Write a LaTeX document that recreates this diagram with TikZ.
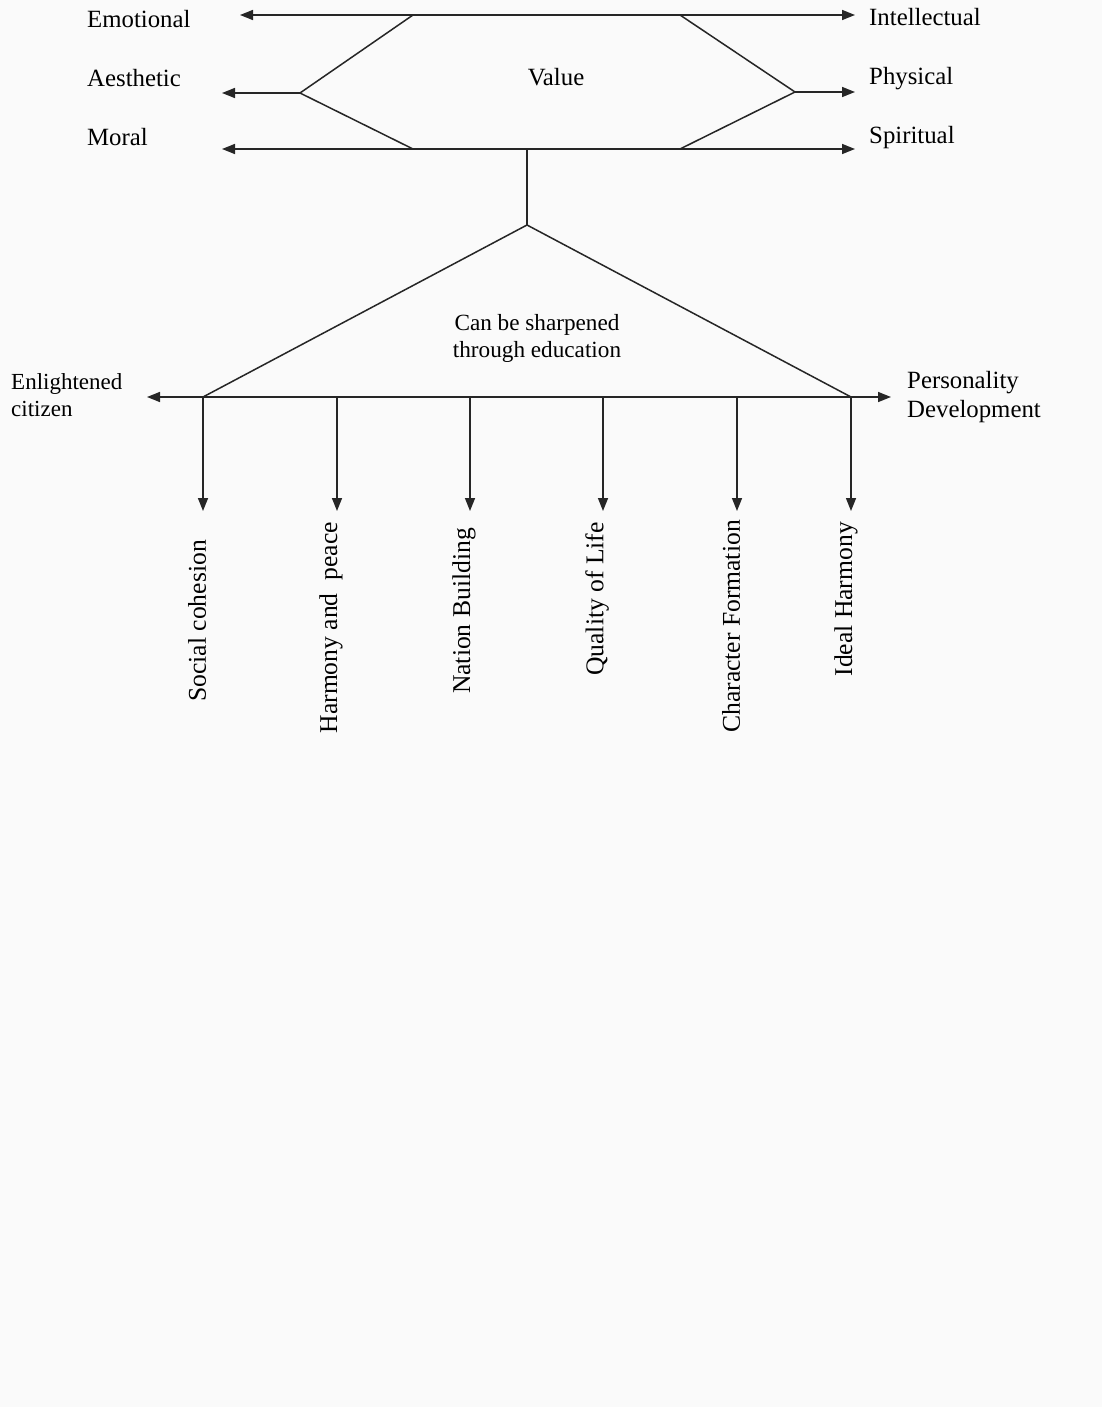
\documentclass[tikz,border=0pt]{standalone}
\usepackage{fontspec}
\setmainfont{Liberation Serif}
\usetikzlibrary{arrows.meta}
\begin{document}
\begin{tikzpicture}[x=1pt,y=-1pt,
  ln/.style={line width=1.5pt, black!85},
  arr/.style={ln, -{Triangle[length=13pt,width=10pt]}},
  darr/.style={ln, {Triangle[length=13pt,width=10pt]}-{Triangle[length=13pt,width=10pt]}},
  lbl/.style={inner sep=0pt, font=\fontsize{24.8}{29}\selectfont, align=left},
  clbl/.style={inner sep=0pt, font=\fontsize{23.2}{27}\selectfont, align=center},
  vlbl/.style={inner sep=0pt, font=\fontsize{25.6}{30}\selectfont, rotate=90, anchor=east}]
\fill[black!2] (0,0) rectangle (1102,1407);
\useasboundingbox (0,0) rectangle (1102,1407);

% hexagon corners
\coordinate (tl) at (413,15);
\coordinate (tr) at (680,15);
\coordinate (ml) at (300,93);
\coordinate (mr) at (795,92);
\coordinate (bl) at (413,149);
\coordinate (br) at (680,149);
\coordinate (stem) at (527,149);
\coordinate (apex) at (527,225);
\coordinate (tbl) at (203,397);
\coordinate (tbr) at (851,397);
% arrow tips
\coordinate (tlTip) at (240,15);
\coordinate (trTip) at (855,15);
\coordinate (mlTip) at (222,93);
\coordinate (mrTip) at (855,92);
\coordinate (blTip) at (222,149);
\coordinate (brTip) at (855,149);
\coordinate (eTip) at (147,397);
\coordinate (pTip) at (891,397);

% top labels
\node[lbl, anchor=base west] (emo) at (87,28) {Emotional};
\node[lbl, anchor=base west] (aes) at (87,87) {Aesthetic};
\node[lbl, anchor=base west] (mor) at (87,146) {Moral};
\node[lbl, anchor=base west] (int) at (869,26) {Intellectual};
\node[lbl, anchor=base west] (phy) at (869,85) {Physical};
\node[lbl, anchor=base west] (spi) at (869,144) {Spiritual};
\node[lbl, anchor=base] (val) at (556,86) {Value};

% value shape
\draw[darr] (tlTip) -- (trTip);
\draw[darr] (blTip) -- (brTip);
\draw[ln] (tl) -- (ml) -- (bl);
\draw[ln] (tr) -- (mr) -- (br);
\draw[arr] (ml) -- (mlTip);
\draw[arr] (mr) -- (mrTip);
\draw[ln] (stem) -- (apex);

% triangle
\draw[ln] (tbl) -- (apex) -- (tbr);
\draw[darr] (eTip) -- (pTip);
\node[clbl, anchor=north] (edu) at (537,314) {Can be sharpened\\through education};
\node[lbl, anchor=north west, font=\fontsize{23}{27}\selectfont] (enl) at (11,373) {Enlightened\\citizen};
\node[lbl, anchor=north west] (per) at (907,371) {Personality\\Development};

% downward arrows
\foreach \n/\x in {a/203,b/337,c/470,d/603,e/737,f/851}{
  \coordinate (top\n) at (\x,397);
  \coordinate (tip\n) at (\x,511);
  \draw[arr] (top\n) -- (tip\n);
}
\node[vlbl] (soc) at (197,540) {Social cohesion};
\node[vlbl] (har) at (331,522) {Harmony and\ \ peace};
\node[vlbl] (nat) at (464,528) {Nation Building};
\node[vlbl] (qua) at (597,522) {Quality of Life};
\node[vlbl] (cha) at (731,520) {Character Formation};
\node[vlbl] (ide) at (846,522) {Ideal Harmony};
\end{tikzpicture}
\end{document}
